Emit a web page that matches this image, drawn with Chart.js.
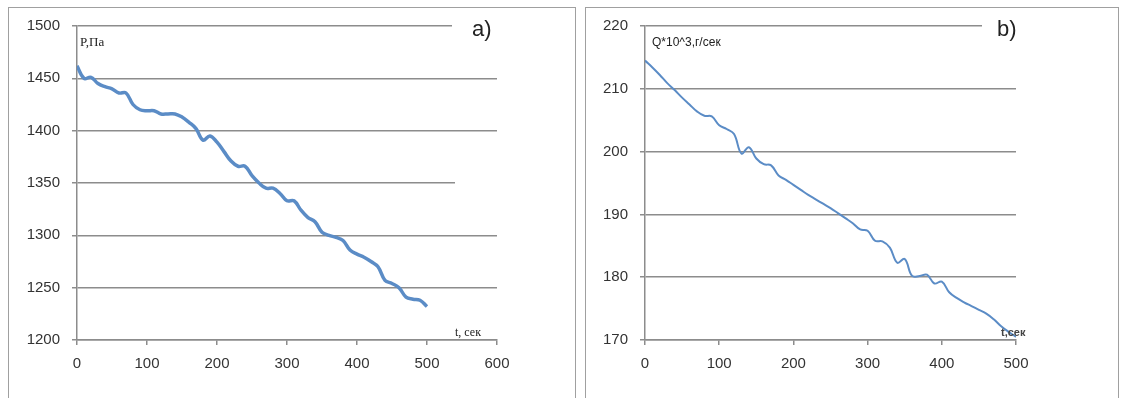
<!DOCTYPE html>
<html>
<head>
<meta charset="utf-8">
<script src="https://cdn.jsdelivr.net/npm/chart.js@4.4.0/dist/chart.umd.min.js"></script>
<style>
  body { margin: 0; background: #fff; width: 1125px; height: 398px; overflow: hidden; position: relative; }
  .frame { position: absolute; border: 1px solid #a0a0a0; border-bottom: none; }
  .box { position: absolute; }
  .lbl { position: absolute; color: #222; white-space: nowrap; }
</style>
</head>
<body>
<div class="frame" style="left:8px;top:7px;width:566px;height:400px"></div>
<div class="frame" style="left:585px;top:7px;width:532px;height:400px"></div>

<div class="box" style="left:9px;top:5px;width:565px;height:393px"><canvas id="grafA"></canvas></div>
<div class="box" style="left:586px;top:5px;width:532px;height:393px"><canvas id="grafB"></canvas></div>

<div class="lbl" style="left:452px;top:16px;width:50px;height:20px;background:#fff"></div>
<div class="lbl" style="left:455px;top:176px;width:45px;height:14px;background:#fff"></div>
<div class="lbl" style="left:982px;top:16px;width:50px;height:20px;background:#fff"></div>

<div class="lbl" style="left:80px;top:34px;font:13px 'Liberation Serif'">P,Па</div>
<div class="lbl" style="left:472px;top:16px;font:22px 'Liberation Sans'">a)</div>
<div class="lbl" style="left:455px;top:325px;font:12px 'Liberation Serif'">t, сек</div>

<div class="lbl" style="left:652px;top:35px;font:12px 'Liberation Sans'">Q*10^3,г/сек</div>
<div class="lbl" style="left:997px;top:16px;font:22px 'Liberation Sans'">b)</div>
<div class="lbl" style="left:1001px;top:326px;font:bold 11px 'Liberation Sans';color:#444">t,сек</div>

<script>
// время, сек
const tiempos = [0, 10, 20, 30, 40, 50, 60, 70, 80, 90,
  100, 110, 120, 130, 140, 150, 160, 170, 180, 190,
  200, 210, 220, 230, 240, 250, 260, 270, 280, 290,
  300, 310, 320, 330, 340, 350, 360, 370, 380, 390,
  400, 410, 420, 430, 440, 450, 460, 470, 480, 490, 500];

// давление P, Па
const presion = [1462, 1450, 1451, 1445, 1442, 1440, 1436, 1436, 1425, 1420,
  1419, 1419, 1416, 1416, 1416, 1413, 1408, 1402, 1391, 1395,
  1389, 1380, 1371, 1366, 1366, 1357, 1350, 1345, 1345, 1340,
  1333, 1333, 1324, 1317, 1313, 1303, 1300, 1298, 1295, 1286,
  1282, 1279, 1275, 1270, 1257, 1254, 1250, 1241, 1239, 1238, 1232];

// расход Q*10^3, г/сек
const caudal = [214.5, 213.4, 212.2, 210.9, 209.8, 208.6, 207.5, 206.4, 205.7, 205.6,
  204.2, 203.6, 202.8, 199.7, 200.7, 198.9, 198.0, 197.8, 196.2, 195.5,
  194.7, 193.9, 193.1, 192.4, 191.7, 191.0, 190.2, 189.4, 188.6, 187.6,
  187.4, 185.8, 185.7, 184.7, 182.3, 182.9, 180.2, 180.2, 180.4, 179.0,
  179.3, 177.6, 176.7, 176.0, 175.4, 174.8, 174.2, 173.3, 172.2, 171.3, 170.5];

Chart.defaults.font.family = "'Liberation Sans', Arial, sans-serif";
Chart.defaults.font.size = 15;
Chart.defaults.color = '#333';

const gris = '#8c8c8c';

function armarGrafico(id, valores, ejeX, ejeY, grosor, padDerecha, anchoY) {
  const puntos = tiempos.map((t, i) => ({ x: t, y: valores[i] }));
  return new Chart(document.getElementById(id), {
    type: 'line',
    data: {
      datasets: [{
        data: puntos,
        borderColor: '#5b8cc6',
        borderWidth: grosor,
        pointRadius: 0,
        tension: 0.4,
        fill: false
      }]
    },
    options: {
      responsive: true,
      maintainAspectRatio: false,
      animation: false,
      layout: { padding: { top: 14, right: padDerecha, left: 0, bottom: 0 } },
      plugins: { legend: { display: false }, tooltip: { enabled: false } },
      scales: {
        x: {
          type: 'linear',
          min: ejeX.min, max: ejeX.max,
          ticks: { stepSize: ejeX.step, padding: 10, callback: v => String(v) },
          grid: { drawOnChartArea: false, drawTicks: true, tickLength: 5, color: gris, lineWidth: 1.5 },
          border: { color: gris, width: 1.5 },
          afterFit: s => { s.height = 58; }
        },
        y: {
          min: ejeY.min, max: ejeY.max,
          ticks: { stepSize: ejeY.step, padding: 12, callback: v => String(v) },
          grid: { color: gris, lineWidth: 1.5, tickLength: 5 },
          border: { color: gris, width: 1.5 },
          afterFit: s => { s.width = anchoY; }
        }
      }
    }
  });
}

armarGrafico('grafA', presion, { min: 0, max: 600, step: 100 }, { min: 1200, max: 1500, step: 50 }, 3.5, 77, 68);
armarGrafico('grafB', caudal, { min: 0, max: 500, step: 100 }, { min: 170, max: 220, step: 10 }, 2, 102, 59);
</script>
</body>
</html>
